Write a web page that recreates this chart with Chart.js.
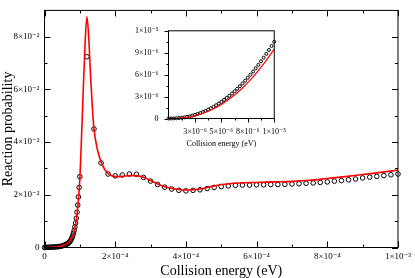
<!DOCTYPE html>
<html>
<head>
<meta charset="utf-8">
<script src="https://cdn.jsdelivr.net/npm/chart.js@4.4.1/dist/chart.umd.min.js"></script>
<style>
  html, body { margin: 0; padding: 0; background: #fff; }
  #wrap { position: relative; width: 415px; height: 278px; }
  #mainChart { position: absolute; left: 0; top: 0; }
  #insetChart { position: absolute; left: 130px; top: 16px; }
</style>
</head>
<body>
<div id="wrap">
  <canvas id="mainChart" width="415" height="278"></canvas>
  <canvas id="insetChart" width="165" height="132"></canvas>
</div>
<script>
// main panel: computed points (circles)
const circleEnergy = [
  0, 4e-6, 8e-6, 12e-6, 16e-6, 20e-6, 24e-6, 28e-6, 32e-6, 36e-6, 40e-6, 44e-6, 48e-6, 52e-6, 56e-6,
  60e-6, 62e-6, 64e-6, 66e-6, 68e-6, 70e-6, 72e-6, 74e-6, 76e-6, 78e-6, 80e-6, 82e-6, 84e-6, 86e-6, 88e-6,
  90e-6, 92e-6, 94e-6, 96e-6, 98e-6, 100e-6,
  120e-6, 140e-6, 160e-6, 180e-6, 200e-6, 220e-6, 240e-6, 260e-6, 280e-6, 300e-6, 320e-6, 340e-6, 360e-6,
  380e-6, 400e-6, 420e-6, 440e-6, 460e-6, 480e-6, 500e-6, 520e-6, 540e-6, 560e-6, 580e-6, 600e-6, 620e-6,
  640e-6, 660e-6, 680e-6, 700e-6, 720e-6, 740e-6, 760e-6, 780e-6, 800e-6, 820e-6, 840e-6, 860e-6, 880e-6,
  900e-6, 920e-6, 940e-6, 960e-6, 980e-6, 1000e-6
];
const circleProb = [
  0, 0.00002, 0.00005, 0.00008, 0.0001, 0.00013, 0.00016, 0.0002, 0.00024, 0.00028, 0.00033, 0.0004, 0.0005, 0.0007, 0.0009,
  0.0011, 0.0012, 0.0014, 0.0015, 0.0017, 0.002, 0.0023, 0.0027, 0.0032, 0.0038, 0.0046, 0.0055, 0.0065, 0.0078, 0.0093,
  0.0111, 0.0134, 0.0161, 0.0192, 0.0228, 0.0269,
  0.0724, 0.0450, 0.0321, 0.0279, 0.0272, 0.0275, 0.0279, 0.0278, 0.0266, 0.0252, 0.0239, 0.0229, 0.0222,
  0.0217, 0.0215, 0.0217, 0.0219, 0.0224, 0.0228, 0.0231, 0.0234, 0.0236, 0.0237, 0.0237, 0.0238, 0.0238,
  0.0239, 0.0239, 0.0240, 0.0241, 0.0242, 0.0244, 0.0245, 0.0247, 0.0249, 0.0252, 0.0254, 0.0257, 0.0260,
  0.0264, 0.0267, 0.0270, 0.0273, 0.0276, 0.0279
];

// main panel: red curve
const fitEnergy = [
  0, 20e-6, 40e-6, 50e-6, 60e-6, 70e-6, 80e-6, 85e-6, 90e-6, 95e-6, 100e-6, 105e-6, 110e-6, 115e-6, 120e-6,
  125e-6, 130e-6, 135e-6, 140e-6, 150e-6, 160e-6, 170e-6, 180e-6, 190e-6, 200e-6, 220e-6, 240e-6, 260e-6,
  280e-6, 300e-6, 320e-6, 340e-6, 360e-6, 380e-6, 400e-6, 420e-6, 440e-6, 460e-6, 480e-6, 500e-6, 550e-6,
  600e-6, 650e-6, 700e-6, 750e-6, 800e-6, 850e-6, 900e-6, 950e-6, 1000e-6
];
const fitProb = [
  0, 0.0001, 0.0004, 0.0007, 0.0012, 0.0022, 0.0045, 0.0068, 0.0105, 0.0165, 0.026, 0.043, 0.061, 0.078, 0.0876,
  0.080, 0.066, 0.054, 0.045, 0.037, 0.0325, 0.0297, 0.0281, 0.0272, 0.0269, 0.0270, 0.0273, 0.0273,
  0.0267, 0.0254, 0.0241, 0.0231, 0.0224, 0.0220, 0.0218, 0.0219, 0.0222, 0.0228, 0.0234, 0.0239, 0.0245,
  0.0247, 0.0249, 0.0251, 0.0255, 0.0262, 0.0269, 0.0277, 0.0285, 0.0294
];

// inset: low energy region
const insetEnergy = [
  0, 0.25e-6, 0.5e-6, 0.75e-6, 1e-6, 1.25e-6, 1.5e-6, 1.75e-6, 2e-6, 2.25e-6, 2.5e-6, 2.75e-6, 3e-6, 3.25e-6,
  3.5e-6, 3.75e-6, 4e-6, 4.25e-6, 4.5e-6, 4.75e-6, 5e-6, 5.25e-6, 5.5e-6, 5.75e-6, 6e-6, 6.25e-6, 6.5e-6,
  6.75e-6, 7e-6, 7.25e-6, 7.5e-6, 7.75e-6, 8e-6, 8.25e-6, 8.5e-6, 8.75e-6, 9e-6, 9.25e-6, 9.5e-6, 9.75e-6, 10e-6
];
const insetProb = [
  0, 0.003e-6, 0.014e-6, 0.035e-6, 0.066e-6, 0.108e-6, 0.162e-6, 0.227e-6, 0.304e-6, 0.394e-6, 0.497e-6,
  0.614e-6, 0.742e-6, 0.886e-6, 1.043e-6, 1.214e-6, 1.399e-6, 1.599e-6, 1.812e-6, 2.041e-6, 2.285e-6,
  2.543e-6, 2.818e-6, 3.108e-6, 3.412e-6, 3.734e-6, 4.070e-6, 4.421e-6, 4.788e-6, 5.172e-6, 5.576e-6,
  5.992e-6, 6.426e-6, 6.878e-6, 7.344e-6, 7.827e-6, 8.327e-6, 8.844e-6, 9.380e-6, 9.931e-6, 10.5e-6
];
const insetFitEnergy = [0, 1e-6, 2e-6, 3e-6, 4e-6, 5e-6, 6e-6, 7e-6, 8e-6, 9e-6, 10e-6];
const insetFitProb = [0, 0.048e-6, 0.235e-6, 0.596e-6, 1.155e-6, 1.93e-6, 2.935e-6, 4.18e-6, 5.69e-6, 7.46e-6, 9.5e-6];

// ticks
const mainXTicks = [0, 2e-4, 4e-4, 6e-4, 8e-4, 1e-3];
const mainXLabels = ['0', '2×10⁻⁴', '4×10⁻⁴', '6×10⁻⁴', '8×10⁻⁴', '1×10⁻³'];
const mainXMinor = [1e-4, 3e-4, 5e-4, 7e-4, 9e-4];
const mainYTicks = [0, 0.02, 0.04, 0.06, 0.08];
const mainYLabels = ['0', '2×10⁻²', '4×10⁻²', '6×10⁻²', '8×10⁻²'];
const mainYMinor = [0.01, 0.03, 0.05, 0.07];

const insetXTicks = [2.5e-6, 5e-6, 7.5e-6, 1e-5];
const insetXLabels = ['3×10⁻⁶', '5×10⁻⁶', '8×10⁻⁶', '1×10⁻⁵'];
const insetXMinor = [1.25e-6, 3.75e-6, 6.25e-6, 8.75e-6];
const insetYTicks = [0, 3e-6, 6e-6, 9e-6, 1.2e-5];
const insetYLabels = ['0', '3×10⁻⁶', '6×10⁻⁶', '9×10⁻⁶', '1×10⁻⁵'];
const insetYMinor = [1.5e-6, 4.5e-6, 7.5e-6, 10.5e-6];

const serif = "'Liberation Serif', 'DejaVu Serif', serif";
Chart.defaults.font.family = serif;
Chart.defaults.color = '#000';

const pairs = (xs, ys) => xs.map((x, i) => ({x: x, y: ys[i]}));

// frame + tick marks (inward on main, outward on inset)
const tickMarks = {
  id: 'tickMarks',
  afterDraw(chart, args, o) {
    const {ctx, chartArea: a, scales} = chart;
    const d = o.inward ? 1 : -1;
    ctx.save();
    ctx.strokeStyle = '#000';
    ctx.lineWidth = 1;
    ctx.strokeRect(a.left, a.top, a.right - a.left, a.bottom - a.top);
    ctx.beginPath();
    const xs = (vals, len) => vals.forEach(v => {
      const px = Math.round(scales.x.getPixelForValue(v)) + 0.5;
      ctx.moveTo(px, a.bottom); ctx.lineTo(px, a.bottom - d * len);
      if (o.mirror) { ctx.moveTo(px, a.top); ctx.lineTo(px, a.top + d * len); }
    });
    const ys = (vals, len) => vals.forEach(v => {
      const py = Math.round(scales.y.getPixelForValue(v)) + 0.5;
      ctx.moveTo(a.left, py); ctx.lineTo(a.left + d * len, py);
      if (o.mirror) { ctx.moveTo(a.right, py); ctx.lineTo(a.right - d * len, py); }
    });
    xs(o.xMajor, o.major); xs(o.xMinor, o.minor);
    ys(o.yMajor, o.major); ys(o.yMinor, o.minor);
    ctx.stroke();
    ctx.restore();
  }
};

new Chart(document.getElementById('mainChart'), {
  type: 'scatter',
  data: {
    datasets: [{
      data: pairs(fitEnergy, fitProb),
      showLine: true,
      borderColor: '#ff0000',
      borderWidth: 1.6,
      pointRadius: 0,
      cubicInterpolationMode: 'monotone',
      clip: false
    }, {
      data: pairs(circleEnergy, circleProb),
      showLine: false,
      pointStyle: 'circle',
      pointRadius: 2.3,
      borderColor: '#000',
      borderWidth: 1,
      backgroundColor: 'rgba(0,0,0,0)',
      clip: false
    }]
  },
  options: {
    responsive: false,
    devicePixelRatio: 1,
    animation: false,
    layout: { padding: { top: 1.5, right: 12.5, left: 0, bottom: 0 } },
    plugins: {
      legend: { display: false },
      tooltip: { enabled: false },
      tickMarks: {
        inward: true, mirror: true, major: 6, minor: 3,
        xMajor: mainXTicks, xMinor: mainXMinor, yMajor: mainYTicks, yMinor: mainYMinor
      }
    },
    scales: {
      x: {
        type: 'linear', min: 0, max: 1e-3,
        afterBuildTicks: s => { s.ticks = mainXTicks.map(v => ({value: v})); },
        afterFit: s => { s.height = 30.5; },
        ticks: {
          callback: (v, i) => mainXLabels[i],
          font: { size: 9, family: serif }, padding: 4, maxRotation: 0, autoSkip: false
        },
        grid: { display: false, drawTicks: false },
        border: { display: false },
        title: {
          display: true, text: 'Collision energy (eV)',
          font: { size: 14, family: serif, lineHeight: 1 }, padding: { top: 0, bottom: 0 }
        }
      },
      y: {
        type: 'linear', min: 0, max: 0.09,
        afterBuildTicks: s => { s.ticks = mainYTicks.map(v => ({value: v})); },
        afterFit: s => { s.width = 44.5; },
        ticks: {
          callback: (v, i) => mainYLabels[i],
          font: { size: 9, family: serif }, padding: 5, autoSkip: false
        },
        grid: { display: false, drawTicks: false },
        border: { display: false },
        title: {
          display: true, text: 'Reaction probability',
          font: { size: 14, family: serif, lineHeight: 1 }, padding: { top: 1, bottom: 0 }
        }
      }
    }
  },
  plugins: [tickMarks]
});

new Chart(document.getElementById('insetChart'), {
  type: 'scatter',
  data: {
    datasets: [{
      data: pairs(insetFitEnergy, insetFitProb),
      showLine: true,
      borderColor: '#ff0000',
      borderWidth: 1.2,
      pointRadius: 0,
      cubicInterpolationMode: 'monotone',
      clip: false
    }, {
      data: pairs(insetEnergy, insetProb),
      showLine: false,
      pointStyle: 'circle',
      pointRadius: 1.5,
      borderColor: '#000',
      borderWidth: 1,
      backgroundColor: 'rgba(0,0,0,0)',
      clip: false
    }]
  },
  options: {
    responsive: false,
    devicePixelRatio: 1,
    animation: false,
    layout: { padding: { top: 8.5, right: 9.5, left: 0, bottom: 0 } },
    plugins: {
      legend: { display: false },
      tooltip: { enabled: false },
      tickMarks: {
        inward: false, mirror: false, major: 4, minor: 2,
        xMajor: insetXTicks, xMinor: insetXMinor, yMajor: insetYTicks, yMinor: insetYMinor
      }
    },
    scales: {
      x: {
        type: 'linear', min: 0, max: 1e-5,
        afterBuildTicks: s => { s.ticks = insetXTicks.map(v => ({value: v})); },
        afterFit: s => { s.height = 29.5; },
        ticks: {
          callback: (v, i) => insetXLabels[i],
          font: { size: 8, family: serif }, padding: 9, maxRotation: 0, autoSkip: false
        },
        grid: { display: false, drawTicks: false },
        border: { display: false },
        title: {
          display: true, text: 'Collision energy (eV)',
          font: { size: 8, family: serif, lineHeight: 1 }, padding: { top: 0, bottom: 0 }
        }
      },
      y: {
        type: 'linear', min: 0, max: 1.2e-5,
        afterBuildTicks: s => { s.ticks = insetYTicks.map(v => ({value: v})); },
        afterFit: s => { s.width = 38.5; },
        ticks: {
          callback: (v, i) => insetYLabels[i],
          font: { size: 8, family: serif }, padding: 10, autoSkip: false
        },
        grid: { display: false, drawTicks: false },
        border: { display: false }
      }
    }
  },
  plugins: [tickMarks]
});
</script>
</body>
</html>
